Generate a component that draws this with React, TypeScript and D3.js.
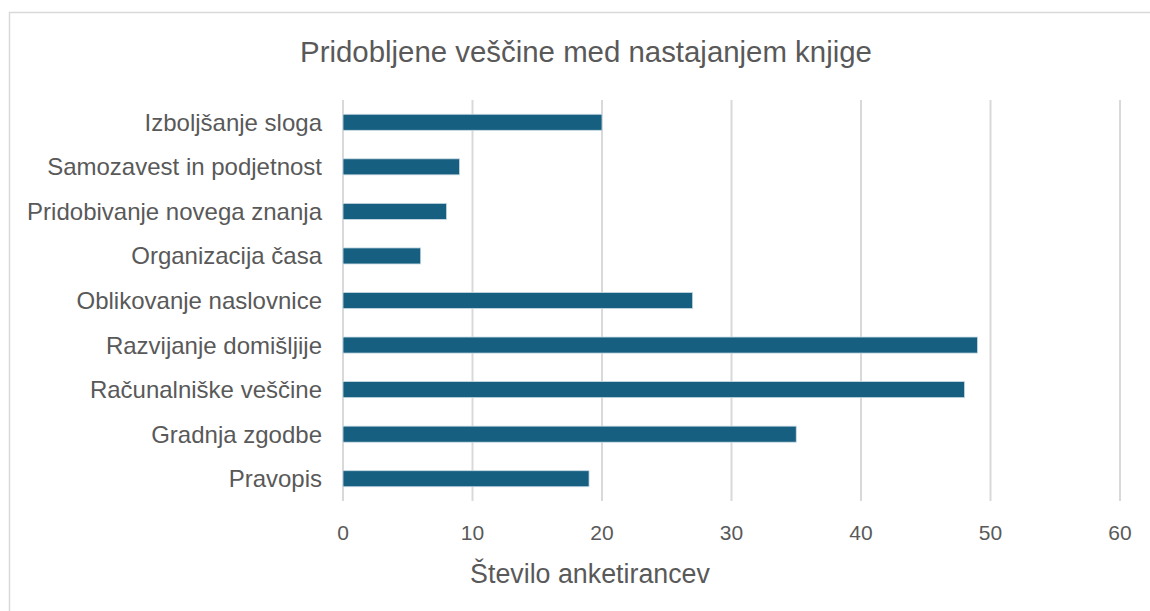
import React from 'react';
import * as d3 from 'd3';

const categories = [
  'Izboljšanje sloga',
  'Samozavest in podjetnost',
  'Pridobivanje novega znanja',
  'Organizacija časa',
  'Oblikovanje naslovnice',
  'Razvijanje domišljije',
  'Računalniške veščine',
  'Gradnja zgodbe',
  'Pravopis',
];
const values = [20, 9, 8, 6, 27, 49, 48, 35, 19];
const xTicks = [0, 10, 20, 30, 40, 50, 60];

const chartTitle = 'Pridobljene veščine med nastajanjem knjige';
const xTitle = 'Število anketirancev';

const W = 1150;
const H = 611;
const font = '"Liberation Sans", Arial, sans-serif';
const textColor = '#595959';

function App() {
  const x = d3.scaleLinear().domain([0, 60]).range([343, 1120]);
  const y = d3.scaleBand().domain(categories).range([100, 501]).paddingInner(0.64).paddingOuter(0.32);

  return (
    <svg width={W} height={H} style={{ position: 'absolute', left: 0, top: 0 }}>
      <rect x={0} y={0} width={W} height={H} fill="#fff" />
      <rect x={9.5} y={12.5} width={W + 10} height={H + 10} fill="none" stroke="#d9d9d9" strokeWidth={1.5} />

      <text x={586} y={62} textAnchor="middle" fontFamily={font} fontSize={29.4} fill={textColor}>
        {chartTitle}
      </text>

      {xTicks.map((t) => (
        <g key={t}>
          <line x1={x(t)} x2={x(t)} y1={100} y2={501} stroke="#d9d9d9" strokeWidth={2} />
          <text x={x(t)} y={532} textAnchor="middle" dominantBaseline="central" fontFamily={font} fontSize={21} fill={textColor}>
            {t}
          </text>
        </g>
      ))}

      {categories.map((c, i) => (
        <g key={c}>
          <rect
            x={x(0)}
            y={y(c)}
            width={x(values[i]) - x(0)}
            height={y.bandwidth()}
            fill="#175f80"
            stroke="#c9dbe4"
            strokeWidth={0.8}
          />
          <text
            x={322}
            y={(y(c) as number) + y.bandwidth() / 2}
            textAnchor="end"
            dominantBaseline="central"
            fontFamily={font}
            fontSize={24}
            fill={textColor}
          >
            {c}
          </text>
        </g>
      ))}

      <text x={590} y={574} textAnchor="middle" dominantBaseline="central" fontFamily={font} fontSize={26.8} fill={textColor}>
        {xTitle}
      </text>
    </svg>
  );
}

export default App;
